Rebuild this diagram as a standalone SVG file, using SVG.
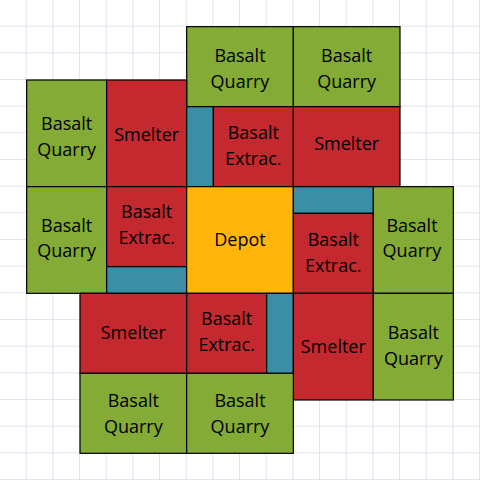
<svg xmlns="http://www.w3.org/2000/svg" width="480" height="480" viewBox="0 0 480 480">
<defs>
<pattern id="grid" width="26.6667" height="26.6667" patternUnits="userSpaceOnUse">
<path d="M26.6667 0V26.6667M0 26.6667H26.6667" fill="none" stroke="#D6DBEA" stroke-width="1.4"/>
</pattern>
<style>
.b{stroke:#000;stroke-width:1.2}
.q{fill:#84AB36}
.s{fill:#C3292E}
.t{fill:#3A8FA7}
.d{fill:#FFB50A}
text{font-family:"Open Sans","Noto Sans","Liberation Sans",sans-serif;font-size:18px;fill:#000;text-anchor:middle}
</style>
</defs>
<rect width="480" height="480" fill="#fff"/>
<rect width="480" height="480" fill="url(#grid)"/>
<g id="q1"><rect class="b q" x="186.67" y="26.67" width="106.67" height="80"/><text x="240" y="62">Basalt</text><text x="240" y="87.5">Quarry</text></g>
<g id="q2"><rect class="b q" x="293.33" y="26.67" width="106.67" height="80"/><text x="346.7" y="62">Basalt</text><text x="346.7" y="87.5">Quarry</text></g>
<g id="q3"><rect class="b q" x="26.67" y="80" width="80" height="106.67"/><text x="66.7" y="130">Basalt</text><text x="66.7" y="156">Quarry</text></g>
<g id="s1"><rect class="b s" x="106.67" y="80" width="80" height="106.67"/><text x="146.7" y="141">Smelter</text></g>
<g id="t1"><rect class="b t" x="186.67" y="106.67" width="26.67" height="80"/></g>
<g id="e1"><rect class="b s" x="213.33" y="106.67" width="80" height="80"/><text x="253.3" y="138.5">Basalt</text><text x="253.3" y="165">Extrac.</text></g>
<g id="s2"><rect class="b s" x="293.33" y="106.67" width="106.67" height="80"/><text x="346.7" y="150">Smelter</text></g>
<g id="q4"><rect class="b q" x="26.67" y="186.67" width="80" height="106.67"/><text x="66.7" y="231.5">Basalt</text><text x="66.7" y="257">Quarry</text></g>
<g id="e2"><rect class="b s" x="106.67" y="186.67" width="80" height="80"/><text x="146.7" y="218">Basalt</text><text x="146.7" y="243.5">Extrac.</text></g>
<g id="t2"><rect class="b t" x="106.67" y="266.67" width="80" height="26.67"/></g>
<g id="depot"><rect class="b d" x="186.67" y="186.67" width="106.67" height="106.67"/><text x="240" y="246">Depot</text></g>
<g id="t3"><rect class="b t" x="293.33" y="186.67" width="80" height="26.67"/></g>
<g id="e3"><rect class="b s" x="293.33" y="213.33" width="80" height="80"/><text x="333.3" y="246">Basalt</text><text x="333.3" y="271.5">Extrac.</text></g>
<g id="q5"><rect class="b q" x="373.33" y="186.67" width="80" height="106.67"/><text x="412" y="231.5">Basalt</text><text x="412" y="257">Quarry</text></g>
<g id="s3"><rect class="b s" x="80" y="293.33" width="106.67" height="80"/><text x="133.3" y="339">Smelter</text></g>
<g id="e4"><rect class="b s" x="186.67" y="293.33" width="80" height="80"/><text x="226.7" y="325">Basalt</text><text x="226.7" y="350.5">Extrac.</text></g>
<g id="t4"><rect class="b t" x="266.67" y="293.33" width="26.67" height="80"/></g>
<g id="s4"><rect class="b s" x="293.33" y="293.33" width="80" height="106.67"/><text x="333.3" y="353">Smelter</text></g>
<g id="q6"><rect class="b q" x="373.33" y="293.33" width="80" height="106.67"/><text x="413.3" y="339">Basalt</text><text x="413.3" y="365">Quarry</text></g>
<g id="q7"><rect class="b q" x="80" y="373.33" width="106.67" height="80"/><text x="133.3" y="407">Basalt</text><text x="133.3" y="432.5">Quarry</text></g>
<g id="q8"><rect class="b q" x="186.67" y="373.33" width="106.67" height="80"/><text x="240" y="407">Basalt</text><text x="240" y="432.5">Quarry</text></g>
<g id="connectors"/>
</svg>
